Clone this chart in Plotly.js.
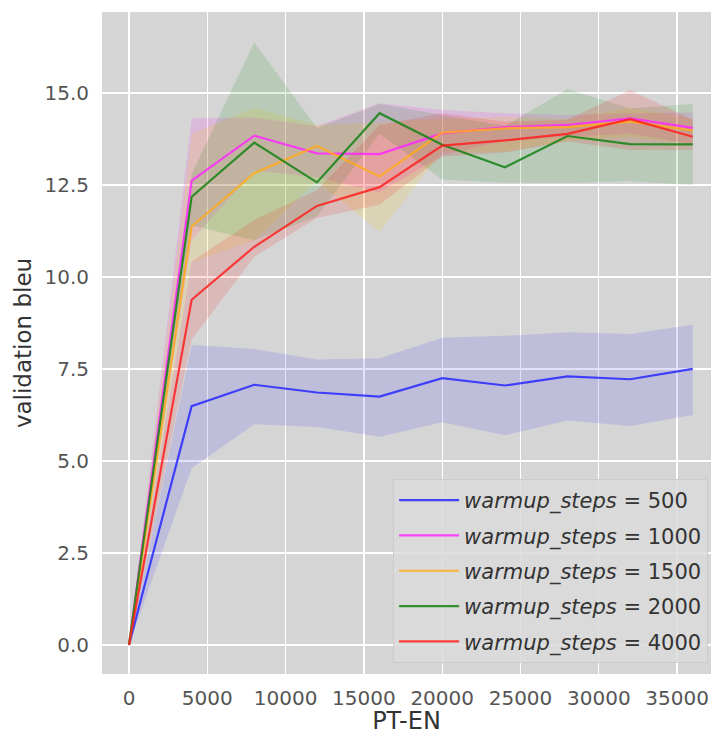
<!DOCTYPE html>
<html>
<head>
<meta charset="utf-8">
<script src="https://cdn.plot.ly/plotly-3.0.1.min.js"></script>
<style>html,body{margin:0;padding:0;background:#fff;}#chart{width:712px;height:735px;}</style>
</head>
<body>
<div id="chart"></div>
<script>
const steps = [0, 4000, 8000, 12000, 16000, 20000, 24000, 28000, 32000, 36000];
const seriesNames = ["500", "1000", "1500", "2000", "4000"];

const mean500  = [0, 6.49, 7.07, 6.86, 6.75, 7.25, 7.05, 7.30, 7.22, 7.50];
const upper500 = [0, 8.15, 8.04, 7.76, 7.79, 8.35, 8.40, 8.50, 8.45, 8.70];
const lower500 = [0, 4.80, 6.00, 5.92, 5.66, 6.05, 5.70, 6.10, 5.95, 6.25];

const mean1000  = [0, 12.62, 13.84, 13.36, 13.34, 13.90, 14.07, 14.13, 14.31, 14.05];
const upper1000 = [0, 14.31, 14.33, 14.10, 14.72, 14.54, 14.45, 14.40, 14.45, 14.47];
const lower1000 = [0, 11.00, 12.90, 12.70, 12.30, 13.30, 13.70, 13.80, 13.90, 13.60];

const mean1500  = [0, 11.37, 12.82, 13.56, 12.73, 13.92, 14.04, 14.07, 14.22, 13.98];
const upper1500 = [0, 13.90, 14.60, 14.13, 14.20, 14.30, 14.35, 14.30, 14.60, 14.30];
const lower1500 = [0, 10.40, 11.00, 12.60, 11.23, 13.40, 13.40, 13.70, 13.80, 13.60];

const mean2000  = [0, 12.18, 13.65, 12.57, 14.45, 13.59, 12.98, 13.83, 13.61, 13.60];
const upper2000 = [0, 12.80, 16.38, 14.05, 14.70, 14.40, 14.10, 15.11, 14.58, 14.70];
const lower2000 = [0, 11.40, 11.00, 11.64, 13.90, 12.64, 12.56, 12.55, 12.60, 12.50];

const mean4000  = [0, 9.38, 10.82, 11.93, 12.44, 13.57, 13.71, 13.89, 14.29, 13.81];
const upper4000 = [0, 10.42, 11.55, 12.36, 14.13, 14.45, 14.22, 14.27, 15.08, 14.27];
const lower4000 = [0, 8.30, 10.55, 11.60, 11.96, 13.27, 13.38, 13.68, 13.45, 13.45];

const xTickVals = [0, 5000, 10000, 15000, 20000, 25000, 30000, 35000];
const xTickText = ["0", "5000", "10000", "15000", "20000", "25000", "30000", "35000"];
const yTickVals = [0, 2.5, 5, 7.5, 10, 12.5, 15];
const yTickText = ["0.0", "2.5", "5.0", "7.5", "10.0", "12.5", "15.0"];

const means  = [mean500, mean1000, mean1500, mean2000, mean4000];
const uppers = [upper500, upper1000, upper1500, upper2000, upper4000];
const lowers = [lower500, lower1000, lower1500, lower2000, lower4000];

const lineColors = ["rgba(40,40,255,0.85)", "rgba(255,40,255,0.85)", "rgba(255,170,30,0.85)", "rgba(20,130,20,0.85)", "rgba(255,30,30,0.85)"];
const fillColors = ["rgba(60,60,255,0.15)", "rgba(255,0,255,0.13)", "rgba(255,200,0,0.15)", "rgba(0,128,0,0.13)", "rgba(255,0,0,0.13)"];

const traces = [];
for (let i = 0; i < means.length; i++) {
  traces.push({
    x: steps.concat(steps.slice().reverse()),
    y: uppers[i].concat(lowers[i].slice().reverse()),
    type: "scatter", mode: "lines", fill: "toself",
    fillcolor: fillColors[i], line: {width: 0, color: "rgba(0,0,0,0)"},
    showlegend: false, hoverinfo: "skip"
  });
}
for (let i = 0; i < means.length; i++) {
  traces.push({
    x: steps, y: means[i], type: "scatter", mode: "lines",
    line: {color: lineColors[i], width: 2.2},
    legendgroup: "g" + i,
    name: "<i>warmup_steps</i> = " + seriesNames[i]
  });
}

const layout = {
  width: 712, height: 735,
  margin: {l: 102, r: 1, t: 12, b: 61},
  paper_bgcolor: "#ffffff",
  plot_bgcolor: "#d5d5d5",
  font: {family: "DejaVu Sans", color: "#555555", size: 20},
  showlegend: true,
  legend: {
    x: 0.478, y: 0.0166, xanchor: "left", yanchor: "bottom",
    bgcolor: "rgba(218,218,218,0.85)", bordercolor: "#cccccc", borderwidth: 1,
    font: {family: "DejaVu Sans", size: 21, color: "#333333"},
    traceorder: "grouped",
    tracegroupgap: 5,
    itemwidth: 60
  },
  xaxis: {
    range: [-1724, 37165],
    tickvals: xTickVals, ticktext: xTickText,
    showgrid: true, gridcolor: "#ffffff", gridwidth: 1.4,
    zeroline: false, showline: false, ticks: "",
    ticklabelstandoff: 10,
    tickfont: {size: 20, color: "#555555"},
    title: {text: "PT-EN", font: {size: 24, color: "#333333"}, standoff: 4}
  },
  yaxis: {
    range: [-0.79, 17.2],
    tickvals: yTickVals, ticktext: yTickText,
    showgrid: true, gridcolor: "#ffffff", gridwidth: 1.4,
    zeroline: false, showline: false, ticks: "",
    ticklabelstandoff: 12,
    tickfont: {size: 20, color: "#555555"},
    title: {text: "validation bleu", font: {size: 23, color: "#333333"}, standoff: 6}
  }
};

Plotly.newPlot("chart", traces, layout, {staticPlot: true, displayModeBar: false});
</script>
</body>
</html>
